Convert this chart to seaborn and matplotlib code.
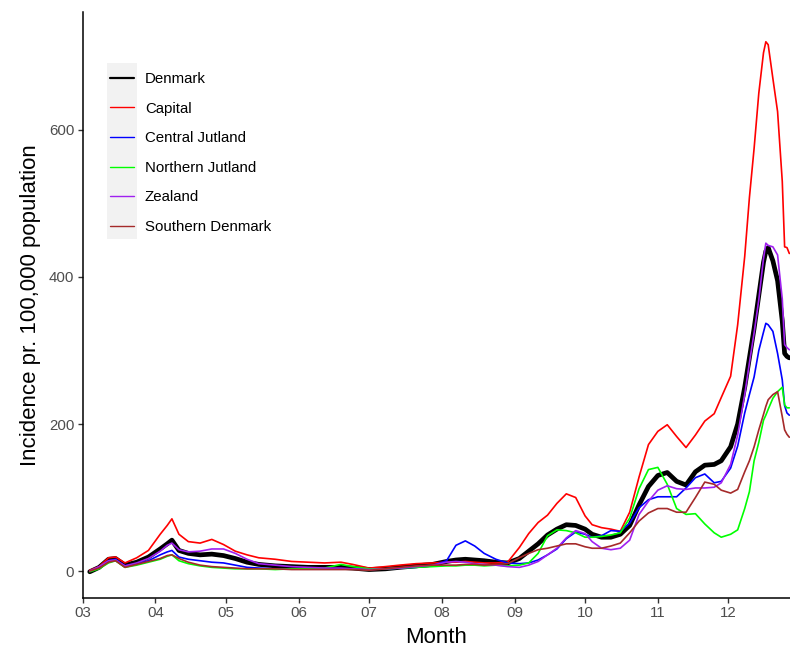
import matplotlib
matplotlib.use("Agg")
import matplotlib.pyplot as plt
from matplotlib.lines import Line2D
from matplotlib.patches import Rectangle
import pandas as pd
import seaborn as sns

dates = ["2021-03-04", "2021-03-08", "2021-03-12", "2021-03-15", "2021-03-19", "2021-03-24",
         "2021-03-29", "2021-04-03", "2021-04-06", "2021-04-08", "2021-04-11", "2021-04-15",
         "2021-04-20", "2021-04-25", "2021-04-30", "2021-05-05", "2021-05-10", "2021-05-15",
         "2021-05-22", "2021-05-29", "2021-06-05", "2021-06-12", "2021-06-19", "2021-06-24",
         "2021-07-01", "2021-07-08", "2021-07-14", "2021-07-21", "2021-07-28", "2021-08-03",
         "2021-08-07", "2021-08-11", "2021-08-15", "2021-08-19", "2021-08-24", "2021-08-29",
         "2021-09-03", "2021-09-07", "2021-09-11", "2021-09-15", "2021-09-19", "2021-09-23",
         "2021-09-27", "2021-10-01", "2021-10-04", "2021-10-08", "2021-10-12", "2021-10-16",
         "2021-10-20", "2021-10-24", "2021-10-28", "2021-11-01", "2021-11-05", "2021-11-09",
         "2021-11-13", "2021-11-17", "2021-11-21", "2021-11-25",
         "2021-11-28", "2021-12-02", "2021-12-05", "2021-12-08", "2021-12-10", "2021-12-12",
         "2021-12-14", "2021-12-16", "2021-12-17", "2021-12-18", "2021-12-20", "2021-12-22",
         "2021-12-24", "2021-12-25", "2021-12-26", "2021-12-27"]

denmark = [-1, 5, 16, 17, 8, 12, 19, 30, 37, 42, 28, 24, 22, 23, 21, 17, 12, 9, 7, 6,
           5, 5, 5, 4, 2, 3, 5, 7, 9, 13, 15, 16, 15, 14, 12, 11,
           17, 27, 37, 49, 57, 63, 62, 57, 50, 46, 46, 50, 62, 90, 115, 130, 134, 122, 117, 135, 144, 145,
           150, 169, 200, 250, 290, 330, 375, 420, 435, 440, 422, 395, 340, 296, 292, 290]
capital = [1, 6, 18, 19, 11, 18, 28, 50, 62, 71, 50, 40, 38, 43, 36, 27, 22, 18, 16, 13,
           12, 11, 12, 9, 4, 6, 8, 10, 11, 12, 12, 13, 12, 11, 11, 12,
           32, 51, 66, 76, 92, 105, 100, 75, 63, 59, 57, 54, 80, 128, 172, 190, 199, 183, 168, 185, 204, 214,
           236, 265, 335, 428, 508, 575, 650, 705, 720, 716, 670, 625, 530, 441, 440, 432]
central = [0, 5, 14, 16, 7, 10, 14, 22, 26, 28, 19, 16, 14, 12, 11, 8, 5, 4, 3, 3,
           3, 3, 3, 3, 2, 3, 4, 5, 7, 14, 35, 41, 34, 24, 16, 11,
           10, 11, 15, 22, 30, 44, 53, 50, 46, 48, 55, 54, 65, 86, 97, 101, 101, 101, 113, 127, 132, 120,
           122, 140, 170, 215, 240, 264, 300, 325, 337, 335, 326, 296, 260, 225, 215, 212]
northern = [-1, 3, 11, 14, 5, 8, 12, 16, 20, 22, 14, 10, 7, 5, 4, 3, 3, 3, 2, 3,
            3, 4, 9, 6, 3, 3, 4, 5, 6, 7, 7, 8, 8, 7, 8, 7,
            8, 11, 24, 48, 56, 55, 52, 46, 46, 47, 49, 52, 72, 112, 138, 141, 118, 85, 77, 78, 64, 52,
            46, 50, 56, 85, 108, 150, 175, 205, 212, 220, 235, 244, 250, 226, 222, 222]
zealand = [0, 6, 14, 15, 7, 11, 17, 27, 35, 38, 29, 26, 27, 30, 30, 24, 16, 10, 8, 6,
           5, 4, 4, 3, 2, 3, 4, 6, 8, 12, 13, 12, 10, 9, 8, 6,
           5, 8, 13, 22, 31, 45, 55, 51, 40, 31, 29, 31, 42, 77, 95, 110, 116, 112, 111, 113, 113, 114,
           120, 145, 185, 240, 283, 324, 369, 425, 446, 443, 441, 430, 370, 308, 304, 301]
southern = [0, 4, 12, 14, 5, 9, 13, 17, 21, 22, 17, 12, 8, 6, 5, 4, 3, 3, 3, 2,
            2, 2, 2, 2, 1, 3, 5, 7, 8, 8, 8, 9, 9, 8, 9, 10,
            18, 24, 29, 31, 34, 37, 37, 33, 31, 31, 34, 38, 52, 68, 79, 85, 85, 80, 80, 100, 121, 118,
            110, 106, 111, 135, 150, 169, 192, 213, 224, 233, 240, 244, 210, 192, 186, 182]

regions = ["Denmark", "Capital", "Central Jutland", "Northern Jutland", "Zealand", "Southern Denmark"]
series = [denmark, capital, central, northern, zealand, southern]
colors = ["#000000", "#FF0000", "#0000FF", "#00FF00", "#A020F0", "#A52A2A"]
month_labels = ["03", "04", "05", "06", "07", "08", "09", "10", "11", "12"]

frames = []
for name, vals in zip(regions, series):
    frames.append(pd.DataFrame({"date": pd.to_datetime(dates), "value": vals, "region": name}))
df = pd.concat(frames, ignore_index=True)

sns.set_theme(style="ticks")
plt.rcParams['font.family'] = ['Liberation Sans', 'DejaVu Sans']

W, H = 790, 647
fig = plt.figure(figsize=(W / 100, H / 100), dpi=100)
ax = fig.add_axes([82.7 / W, 1 - 598 / H, 1 - 82.7 / W, (598 - 12) / H])

sns.lineplot(data=df[df.region == "Denmark"], x="date", y="value", color="black",
             lw=3.4, ax=ax, legend=False, estimator=None, sort=False)
sns.lineplot(data=df[df.region != "Denmark"], x="date", y="value", hue="region",
             hue_order=regions[1:], palette=colors[1:], lw=1.2, ax=ax, legend=False,
             estimator=None, sort=False)

ax.set_xlim(pd.Timestamp("2021-03-01"), pd.Timestamp("2021-12-27 07:00"))
ax.set_ylim(-36.7, 760.5)
ticks = pd.date_range("2021-03-01", "2021-12-01", freq="MS")
ax.set_xticks(ticks)
ax.set_xticklabels(month_labels)
ax.set_yticks([0, 200, 400, 600])

for s in ["top", "right"]:
    ax.spines[s].set_visible(False)
for s in ["left", "bottom"]:
    ax.spines[s].set_color("black")
    ax.spines[s].set_linewidth(1.1)
ax.tick_params(axis="both", length=3.5, width=1.0, color="#333333",
               labelcolor="#4D4D4D", labelsize=10.8, pad=2.5)
ax.set_xlabel("Month", fontsize=16, color="black", labelpad=5)
ax.set_ylabel("Incidence pr. 100,000 population", fontsize=16, color="black", labelpad=6)
ax.grid(False)
ax.set_facecolor("white")

# legend key background (ggplot style)
ax.add_patch(Rectangle((107 / W, 1 - 239 / H), 30 / W, 176 / H,
                       transform=fig.transFigure, facecolor="#F2F2F2",
                       edgecolor="none", zorder=1, clip_on=False))
handles = [Line2D([], [], color=c, lw=(1.6 if i == 0 else 1.0)) for i, c in enumerate(colors)]
leg = ax.legend(handles, regions, loc="upper left",
                bbox_to_anchor=(110 / W, 1 - 72 / H), bbox_transform=fig.transFigure,
                frameon=False, fontsize=10.8, handlelength=1.6, handletextpad=0.73,
                labelspacing=1.04, borderpad=0, borderaxespad=0)
leg.set_zorder(5)
for t in leg.get_texts():
    t.set_color("black")

fig.savefig("out.png", dpi=100, facecolor="white")
